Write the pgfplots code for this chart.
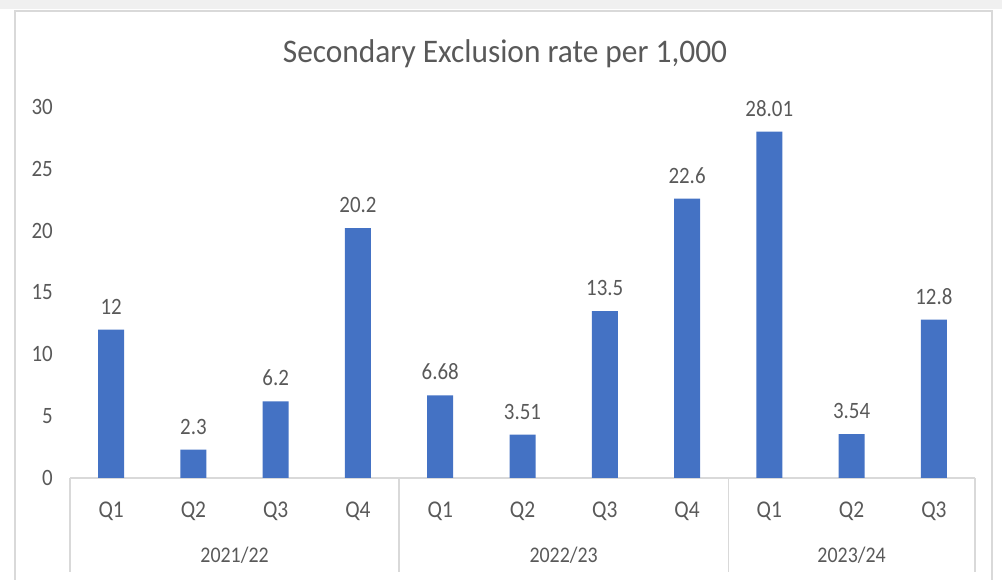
\documentclass[border=0pt]{standalone}
\usepackage{pgfplots}
\pgfplotsset{compat=1.18}
\usepackage{fontspec}
\setmainfont{Carlito}
\definecolor{barblue}{HTML}{4472C4}
\definecolor{txt}{HTML}{595959}
\definecolor{ln}{HTML}{D9D9D9}
\newcommand{\vs}[1]{\scalebox{1}[1.12]{#1}}
\begin{document}
\begin{tikzpicture}[x=1bp,y=1bp]
\path[use as bounding box] (0,0) rectangle (1002,580);
\fill[black!6] (0,571) rectangle (1002,580);
\draw[ln, line width=1.5bp] (15,-2) -- (15,569) -- (992,569) -- (992,-2);
\node[txt, font=\fontsize{31.5}{34}\selectfont] at (505,526) {\scalebox{1}[1.05]{Secondary Exclusion rate per 1,000}};
\begin{axis}[
  at={(70bp,102bp)}, anchor=south west,
  scale only axis, width=905bp, height=371bp,
  xmin=-0.5, xmax=10.5, ymin=0, ymax=30,
  axis x line=bottom, axis y line=left,
  y axis line style={draw=none},
  x axis line style={ln, line width=1.2bp, -},
  major tick length=0pt,
  ytick={0,5,10,15,20,25,30},
  yticklabels={\vs{0},\vs{5},\vs{10},\vs{15},\vs{20},\vs{25},\vs{30}},
  yticklabel style={txt, font=\fontsize{21}{24}\selectfont, inner sep=0pt, xshift=-17bp},
  xtick={0,...,10},
  xticklabels={\vs{Q1},\vs{Q2},\vs{Q3},\vs{Q4},\vs{Q1},\vs{Q2},\vs{Q3},\vs{Q4},\vs{Q1},\vs{Q2},\vs{Q3}},
  xticklabel style={txt, font=\fontsize{21.5}{24}\selectfont, inner sep=0pt, yshift=-24bp},
  ybar, bar width=26bp,
  clip=false,
  nodes near coords={\vs{\pgfplotspointmeta}},
  point meta=explicit symbolic,
  every node near coord/.append style={txt, font=\fontsize{21}{24}\selectfont, inner sep=0pt, yshift=15.5bp, anchor=base},
]
\addplot[fill=barblue, draw=none] coordinates {
  (0,12) [12]
  (1,2.3) [2.3]
  (2,6.2) [6.2]
  (3,20.2) [20.2]
  (4,6.68) [6.68]
  (5,3.51) [3.51]
  (6,13.5) [13.5]
  (7,22.6) [22.6]
  (8,28.01) [28.01]
  (9,3.54) [3.54]
  (10,12.8) [12.8]
};
\draw[ln, line width=1.2bp] (axis cs:-0.5,0) -- ([yshift=-94bp]axis cs:-0.5,0);
\draw[ln, line width=1.2bp] (axis cs:3.5,0) -- ([yshift=-94bp]axis cs:3.5,0);
\draw[ln, line width=1.2bp] (axis cs:7.5,0) -- ([yshift=-94bp]axis cs:7.5,0);
\draw[ln, line width=1.2bp] (axis cs:10.5,0) -- ([yshift=-94bp]axis cs:10.5,0);
\node[txt, font=\fontsize{20}{24}\selectfont, anchor=base] at ([yshift=-85bp]axis cs:1.5,0) {\vs{2021/22}};
\node[txt, font=\fontsize{20}{24}\selectfont, anchor=base] at ([yshift=-85bp]axis cs:5.5,0) {\vs{2022/23}};
\node[txt, font=\fontsize{20}{24}\selectfont, anchor=base] at ([yshift=-85bp]axis cs:9,0) {\vs{2023/24}};
\end{axis}
\end{tikzpicture}
\end{document}
